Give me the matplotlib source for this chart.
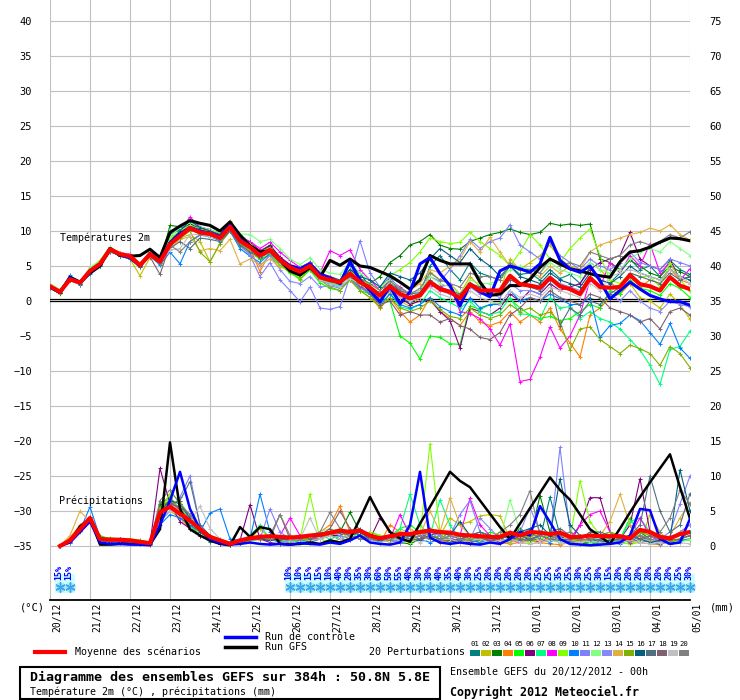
import matplotlib
matplotlib.use('Agg')
import matplotlib.pyplot as plt
from matplotlib.patches import Rectangle
from matplotlib.lines import Line2D

W, H = 740, 700
MONO = 'DejaVu Sans Mono'

steps = list(range(65))       # 6h steps, 0..384h
steps_p = list(range(1, 65))  # precipitation starts at +6h

days = ['20/12', '21/12', '22/12', '23/12', '24/12', '25/12', '26/12', '27/12',
        '28/12', '29/12', '30/12', '31/12', '01/01', '02/01', '03/01', '04/01', '05/01']

# temperatures 2m (°C)
t_mean = [2.1, 1.3, 3.1, 2.6, 4.3, 5.3, 7.4, 6.7, 6.4, 5.1, 6.7, 5.6,
          8.1, 9.3, 10.4, 9.8, 9.6, 9.0, 10.6, 8.6, 7.7, 6.5, 7.3, 5.8,
          4.8, 4.2, 5.0, 3.4, 3.0, 2.7, 3.9, 2.7, 1.9, 0.8, 2.1, 1.0,
          0.4, 0.8, 2.7, 1.7, 1.3, 0.4, 2.4, 1.5, 1.5, 1.5, 3.6, 2.4,
          2.2, 1.9, 3.3, 2.1, 1.7, 1.0, 3.3, 2.0, 1.9, 2.0, 3.7, 2.4,
          2.1, 1.5, 3.4, 2.2, 1.7]
t_gfs = [2.0, 1.2, 3.4, 2.7, 4.0, 5.0, 7.5, 6.5, 6.4, 6.5, 7.4, 6.2,
         9.8, 10.7, 11.5, 11.1, 10.8, 10.0, 11.3, 9.4, 7.9, 7.0, 7.2, 5.8,
         4.3, 3.7, 4.8, 3.4, 5.8, 5.1, 6.0, 5.0, 4.8, 4.2, 3.6, 2.7,
         1.7, 3.0, 6.5, 5.8, 5.3, 5.3, 5.3, 2.7, 0.8, 1.0, 2.2, 2.2,
         3.1, 4.8, 6.0, 5.3, 4.6, 4.3, 3.9, 3.6, 3.4, 5.6, 7.0, 7.2,
         7.7, 8.4, 9.0, 8.9, 8.6]
t_ctrl = [2.0, 1.2, 3.3, 2.6, 4.2, 5.2, 7.5, 6.6, 6.2, 5.0, 6.8, 5.7,
          8.3, 9.6, 10.5, 10.0, 9.7, 9.2, 10.8, 8.8, 7.8, 6.6, 7.2, 5.9,
          5.0, 4.6, 5.3, 3.8, 3.2, 2.5, 5.6, 3.0, 1.5, -0.1, 2.1, -0.4,
          1.3, 5.3, 6.2, 3.9, 2.2, -0.7, 2.4, 1.3, 0.6, 4.3, 5.0, 4.6,
          4.1, 5.3, 9.1, 5.8, 4.6, 4.1, 5.0, 2.9, 0.3, 1.5, 2.7, 1.7,
          0.8, 0.3, -0.1, -0.1, -0.6]

t01 = [2.3, 1.4, 3.3, 2.5, 4.6, 5.5, 7.6, 6.5, 6.3, 5.0, 6.9, 5.9,
       9.5, 10.2, 11.0, 10.4, 10.0, 9.4, 11.0, 9.0, 8.0, 6.8, 7.8, 6.0,
       5.0, 4.5, 5.6, 3.8, 3.5, 3.0, 5.2, 4.0, 2.0, 0.5, 3.5, 1.0,
       -0.5, 1.0, 5.0, 6.5, 4.5, 3.0, 5.5, 4.0, 3.5, 3.0, 5.0, 3.8,
       4.0, 3.0, 4.5, 3.2, 3.8, 2.5, 4.8, 3.0, 2.6, 4.0, 6.0, 4.5,
       5.0, 3.5, 5.8, 4.5, 3.8]
t02 = [2.0, 1.0, 3.0, 2.4, 4.2, 5.0, 7.2, 6.4, 6.0, 3.6, 6.2, 5.4,
       7.8, 9.0, 9.5, 8.5, 5.6, 8.2, 10.0, 7.8, 6.8, 6.0, 6.5, 5.0,
       4.2, 3.0, 4.5, 3.0, 2.8, 2.2, 3.0, 1.5, 0.5, -1.0, 1.2, 0.0,
       -0.8, 0.5, 4.2, 3.0, 2.5, 1.0, 3.5, 2.0, 1.5, 1.2, 6.0, 4.5,
       5.5, 6.5, 8.0, 6.0, 5.0, 4.0, 5.5, 4.5, 3.0, 1.0, 2.5, 0.5,
       0.0, -1.0, 1.0, -0.5, -2.6]
t03 = [2.2, 1.2, 3.2, 2.8, 4.5, 5.4, 7.5, 6.6, 6.2, 5.2, 6.6, 5.5,
       10.8, 10.6, 11.3, 10.5, 10.2, 9.6, 11.2, 9.5, 8.3, 7.0, 8.0, 6.2,
       4.5, 4.0, 5.2, 3.5, 3.0, 2.8, 4.5, 3.2, 2.5, 3.5, 5.5, 6.5,
       8.0, 8.5, 9.5, 8.0, 7.5, 7.4, 8.5, 9.0, 9.5, 9.8, 10.3, 9.8,
       9.5, 9.8, 11.1, 10.8, 11.0, 10.8, 11.0, 6.0, 5.5, 4.5, 5.8, 5.0,
       4.0, 3.5, 5.0, 4.2, 3.5]
t04 = [2.0, 1.2, 3.0, 2.4, 4.1, 5.2, 7.2, 6.8, 6.6, 5.4, 6.8, 5.8,
       8.6, 9.6, 10.6, 10.0, 9.6, 9.0, 11.5, 9.2, 7.5, 4.2, 7.0, 5.8,
       4.8, 4.5, 5.0, 3.2, 2.8, 2.5, 3.6, 2.0, 1.0, -1.0, 0.5, -1.5,
       -3.0, -2.0, 0.5, -1.5, -2.5, -3.5, -1.5, -3.0, -3.5, -3.0, -1.5, -3.0,
       -2.0, -3.0, -1.0, -4.0, -6.0, -8.0, -2.0, -1.0, 0.5, 1.0, 2.5, 2.0,
       3.0, 2.5, 4.6, 3.0, 2.5]
t05 = [2.4, 1.6, 3.4, 2.3, 4.4, 5.6, 7.2, 6.6, 6.0, 4.8, 6.5, 5.3,
       8.8, 9.8, 10.8, 10.2, 9.8, 9.2, 10.2, 8.4, 7.3, 6.0, 6.6, 5.2,
       4.0, 3.2, 4.4, 2.6, 1.8, 1.5, 3.5, 1.5, 1.0, 0.5, 0.0, -5.0,
       -6.0, -8.3, -5.0, -5.2, -6.1, -6.2, -0.7, -1.2, -0.5, -0.3, 0.3, -1.0,
       -2.0, -2.5, -2.2, -2.8, -2.5, -1.5, -0.5, -1.0, 1.5, 1.0, 3.0, 1.8,
       1.5, 0.8, 2.5, 1.8, 0.5]
t06 = [2.2, 1.4, 3.0, 2.7, 4.4, 5.2, 7.3, 6.8, 6.6, 5.0, 6.9, 5.8,
       8.2, 9.5, 11.0, 10.0, 9.8, 9.2, 10.5, 8.8, 8.4, 7.2, 7.9, 6.3,
       5.2, 4.8, 5.5, 4.0, 3.5, 2.8, 3.5, 2.5, 1.8, 0.2, 1.5, 0.5,
       -0.5, 0.0, 0.1, -1.5, -2.8, -6.7, -1.0, -1.5, -2.0, -1.0, 1.0, 0.0,
       1.5, 1.0, 2.5, 1.5, 2.0, 2.5, 4.5, 5.5, 6.0, 6.5, 9.8, 6.0,
       5.0, 4.5, 6.0, 3.0, 3.5]
t07 = [2.1, 1.3, 3.0, 2.7, 4.2, 5.4, 7.4, 6.4, 6.2, 5.2, 6.6, 5.6,
       8.4, 9.5, 10.2, 9.8, 9.4, 8.8, 10.8, 8.7, 7.6, 6.4, 7.0, 5.6,
       4.6, 4.0, 4.6, 3.0, 2.6, 2.2, 3.8, 2.4, 1.5, -0.5, 1.0, -0.8,
       -1.2, -0.5, 1.5, 0.5, -0.2, -1.0, 0.0, -1.5, -2.0, -1.5, 0.5, -1.8,
       -2.0, -2.5, 0.5, -1.0, -0.8, -2.5, -1.5, -2.5, -3.0, -4.0, -5.5, -7.0,
       -9.2, -11.9, -6.9, -6.5, -4.3]
t08 = [2.3, 1.5, 3.2, 2.6, 4.4, 5.4, 7.6, 6.9, 6.7, 5.3, 7.0, 5.9,
       8.6, 10.0, 12.0, 10.6, 10.2, 9.4, 11.0, 9.2, 8.5, 7.5, 8.4, 7.0,
       5.8, 4.8, 5.5, 4.0, 7.2, 6.5, 7.3, 4.5, 3.0, 1.5, 3.0, 2.0,
       1.0, 1.5, 2.1, 2.1, 2.3, -1.5, -1.8, -2.5, -4.0, -6.3, -3.3, -11.5,
       -11.2, -8.0, -3.7, -6.7, -5.0, -2.0, 3.0, 2.0, 5.5, 4.0, 6.5, 5.0,
       8.2, 4.0, 5.5, 3.0, 4.6]
t09 = [2.4, 1.5, 3.3, 2.8, 4.7, 5.8, 7.7, 6.8, 6.5, 5.3, 7.0, 5.8,
       9.0, 10.0, 10.8, 10.2, 10.0, 9.2, 11.0, 9.0, 8.2, 7.0, 7.6, 6.0,
       5.0, 4.2, 5.3, 3.5, 3.2, 2.8, 4.2, 3.0, 2.4, 1.5, 3.6, 4.5,
       5.5, 7.0, 9.0, 8.5, 8.2, 8.4, 9.8, 8.5, 7.5, 6.5, 5.0, 7.0,
       9.5, 8.0, 6.0, 5.5, 7.5, 9.0, 10.3, 6.5, 3.0, 2.5, 4.0, 3.5,
       3.5, 2.0, 5.5, 3.0, 1.5]
t10 = [1.8, 1.1, 3.7, 2.3, 3.8, 5.0, 7.2, 6.4, 6.0, 5.0, 6.5, 5.1,
       7.0, 5.3, 8.5, 9.4, 9.2, 8.6, 10.0, 7.5, 6.4, 5.5, 6.8, 5.5,
       4.4, 3.8, 4.8, 3.0, 2.4, 2.0, 3.0, 2.0, 1.0, -0.5, 1.0, -0.5,
       -1.0, -0.5, 0.5, -0.8, -1.5, -2.0, 0.5, -1.0, -0.5, -0.5, 1.5, 0.0,
       0.5, 0.0, 1.0, 0.3, -0.5, -0.5, 0.5, -5.2, -3.5, -3.2, -2.0, -2.8,
       -4.5, -6.2, -3.2, -6.7, -8.2]
t11 = [2.0, 1.2, 3.2, 2.5, 4.0, 5.0, 7.0, 6.6, 6.3, 5.2, 6.4, 5.4,
       8.0, 9.0, 10.2, 9.6, 9.4, 8.8, 10.2, 8.0, 6.5, 3.5, 5.5, 3.0,
       1.5, -0.1, 2.0, -1.0, -1.2, -0.8, 3.5, 8.6, 4.0, 2.0, 3.5, 1.5,
       0.5, 1.2, 3.5, 2.8, 4.5, 6.5, 8.8, 7.5, 8.5, 9.0, 10.9, 8.0,
       7.0, 6.0, 8.5, 6.5, 5.5, 4.5, 6.0, 5.0, 4.5, 5.5, 7.0, 5.5,
       5.0, 4.5, 6.0, 5.5, 5.0]
t12 = [2.5, 1.6, 3.4, 2.8, 4.8, 5.7, 7.5, 6.9, 6.6, 5.4, 7.0, 6.0,
       9.2, 10.5, 11.2, 10.6, 10.2, 9.6, 11.3, 9.6, 9.5, 8.5, 8.8, 7.5,
       6.0, 5.2, 6.2, 4.5, 4.0, 3.8, 5.5, 4.0, 3.0, 2.0, 3.0, 1.8,
       1.0, 1.5, 3.5, 2.5, 2.0, 1.0, 3.0, 2.5, 2.5, 3.0, 4.5, 5.0,
       4.5, 4.0, 5.5, 4.5, 4.0, 3.5, 5.5, 4.5, 4.0, 4.5, 6.0, 7.0,
       7.5, 7.0, 8.5, 7.5, 6.5]
t13 = [2.2, 1.4, 3.1, 2.4, 4.3, 5.3, 7.3, 6.5, 6.2, 5.0, 6.6, 5.5,
       8.4, 9.2, 10.4, 9.9, 9.7, 9.1, 10.5, 8.5, 6.8, 5.0, 6.5, 4.5,
       2.8, 2.5, 3.5, 2.0, 2.2, 1.8, 3.0, 1.8, 1.2, 0.0, 1.5, 0.5,
       0.0, 0.5, 2.5, 1.5, 1.0, 0.5, 2.0, 1.0, 1.0, 0.5, 2.5, 1.5,
       1.5, 1.0, 3.5, 2.5, 2.0, 1.5, 3.5, 2.0, 1.0, 0.0, 1.5, 0.0,
       -1.0, -1.5, 0.0, -0.5, -0.8]
t14 = [2.3, 1.3, 3.2, 2.6, 4.4, 5.3, 7.4, 6.7, 6.3, 5.1, 6.8, 5.6,
       7.5, 8.8, 9.2, 7.2, 7.5, 7.2, 8.8, 5.3, 6.0, 5.2, 6.0, 4.8,
       4.5, 3.8, 4.8, 3.2, 3.0, 2.5, 3.8, 2.5, 1.5, 0.5, 2.0, 0.8,
       1.5, 2.5, 4.5, 4.0, 5.0, 6.0, 8.5, 7.0, 9.1, 7.0, 5.0, 4.5,
       4.0, 3.5, 5.0, 4.0, 5.0, 4.5, 7.0, 8.0, 8.5, 9.0, 9.5, 9.8,
       10.4, 10.0, 10.9, 9.5, 8.7]
t15 = [2.0, 1.2, 3.0, 2.5, 4.2, 5.1, 7.2, 6.5, 6.2, 4.8, 6.5, 5.4,
       8.0, 9.0, 10.0, 7.0, 5.6, 8.2, 10.0, 8.2, 7.2, 6.2, 6.9, 5.4,
       4.2, 3.5, 4.6, 3.0, 2.0, 1.5, 3.0, 1.5, 0.5, -0.8, 0.5, -1.0,
       -1.5, -1.0, 0.0, -1.2, -2.2, -2.5, -1.0, -2.0, -2.5, -2.0, -0.5, -1.5,
       -1.0, -2.0, -1.6, -3.0, -7.0, -4.0, -3.7, -5.5, -6.5, -7.5, -6.3, -6.8,
       -7.5, -9.2, -6.5, -7.5, -9.5]
t16 = [2.1, 1.2, 3.1, 2.7, 4.3, 5.3, 7.2, 6.5, 6.3, 5.1, 6.5, 5.5,
       8.5, 10.0, 11.5, 10.5, 10.0, 9.5, 11.0, 9.0, 7.7, 6.3, 7.5, 5.8,
       4.8, 4.0, 5.0, 3.2, 2.8, 2.8, 4.5, 3.5, 3.0, 2.0, 4.0, 3.5,
       3.0, 4.0, 6.0, 7.5, 6.5, 5.5, 7.5, 6.0, 5.0, 3.5, 5.0, 3.5,
       3.0, 2.5, 4.0, 3.0, 2.5, 2.0, 4.0, 3.0, 2.5, 3.5, 5.0, 4.0,
       3.5, 3.0, 4.5, 3.5, 3.0]
t17 = [2.0, 1.3, 3.0, 2.5, 4.1, 5.0, 7.0, 6.5, 6.2, 4.9, 6.4, 5.5,
       7.5, 8.5, 7.5, 9.0, 8.8, 8.5, 10.0, 8.0, 7.0, 6.2, 7.0, 5.5,
       4.6, 4.0, 4.8, 3.2, 2.8, 2.5, 3.8, 2.8, 2.0, 1.0, 2.5, 1.5,
       1.0, 1.2, 3.0, 2.0, 1.5, 1.0, 2.5, 2.0, 1.5, 1.2, 3.0, 2.5,
       2.0, 1.5, 3.0, -3.5, -1.0, -2.0, 0.0, -0.5, 1.0, 2.0, 4.0, 3.5,
       3.0, 2.5, 4.0, 3.0, 3.5]
t18 = [2.2, 1.4, 3.1, 2.6, 4.4, 5.2, 7.3, 6.6, 6.3, 5.0, 6.3, 3.8,
       8.0, 9.3, 10.5, 10.0, 9.8, 9.2, 10.7, 8.7, 7.8, 6.6, 7.4, 6.0,
       4.8, 4.2, 5.0, 3.6, 3.2, 2.6, 3.5, 2.2, 1.2, -0.5, 0.0, -2.0,
       -1.5, -2.0, -2.0, -3.0, -2.5, -3.5, -4.0, -5.2, -5.5, -4.5, -2.0, -1.0,
       0.5, 0.0, 1.5, 0.5, 0.0, -0.5, 1.0, 0.5, -1.0, -1.5, -2.0, -3.0,
       -2.5, -4.0, -1.5, -1.0, -2.0]
t19 = [2.1, 1.3, 3.1, 2.6, 4.3, 5.2, 7.3, 6.6, 6.3, 5.1, 6.6, 5.5,
       7.3, 7.5, 9.5, 9.5, 9.2, 8.8, 10.4, 8.5, 7.5, 6.4, 7.0, 5.5,
       4.5, 3.8, 4.8, 3.0, 2.5, 2.0, 3.2, 2.5, 1.5, 0.5, 1.8, 0.5,
       0.0, 0.5, 2.0, 1.0, 0.5, -0.5, 1.5, 0.5, 0.0, -0.5, 1.5, 0.5,
       1.0, 0.5, 2.0, 1.5, 1.0, 0.5, 2.5, 1.5, 3.5, 4.0, 4.5, 4.0,
       3.5, 3.0, 4.5, 3.5, 2.5]
t20 = [2.2, 1.3, 3.2, 2.7, 4.4, 5.4, 7.3, 6.7, 6.4, 5.2, 6.6, 5.5,
       8.0, 7.0, 8.5, 9.5, 9.4, 8.8, 10.4, 8.4, 7.8, 6.8, 7.5, 5.8,
       4.8, 4.0, 5.2, 3.4, 3.0, 2.8, 4.0, 3.2, 2.5, 1.5, 2.8, 1.8,
       1.0, 1.8, 4.0, 3.0, 2.5, 2.0, 4.0, 3.5, 3.5, 3.0, 5.5, 4.5,
       4.5, 4.0, 6.0, 5.0, 5.5, 5.0, 7.0, 6.5, 6.0, 6.5, 8.0, 8.5,
       8.0, 8.5, 9.5, 9.0, 9.9]

# precipitations (mm / 6h), steps 1..64
p_mean = [0.0, 0.8, 2.4, 4.0, 1.0, 0.9, 0.9, 0.8, 0.6, 0.4, 4.8, 5.6, 4.6, 3.6, 2.4, 1.3,
          0.8, 0.3, 0.8, 1.1, 1.3, 1.4, 1.3, 1.2, 1.3, 1.5, 1.6, 1.9, 2.2, 2.0, 2.2, 1.5,
          1.1, 1.4, 1.7, 1.7, 2.0, 2.2, 2.0, 1.9, 1.6, 1.5, 1.4, 1.3, 1.3, 1.9, 1.5, 2.0,
          1.9, 1.7, 1.9, 1.3, 1.3, 1.5, 1.4, 1.4, 1.4, 1.1, 2.3, 2.0, 1.3, 1.1, 1.7, 2.0]
p_gfs = [0.0, 0.6, 2.8, 3.9, 0.2, 0.2, 0.3, 0.3, 0.2, 0.2, 2.4, 14.8, 5.3, 2.4, 1.5, 0.8,
         0.3, 0.1, 2.7, 1.3, 2.7, 2.4, 0.3, 0.2, 0.3, 0.5, 0.3, 0.8, 0.5, 1.0, 3.9, 7.0,
         4.3, 2.0, 1.1, 0.6, 3.2, 5.6, 8.1, 10.6, 9.3, 8.4, 6.5, 4.6, 2.7, 1.0, 3.2, 5.4,
         7.6, 9.8, 8.0, 6.6, 4.5, 2.4, 1.4, 0.3, 2.5, 4.8, 7.0, 9.1, 11.1, 13.1, 8.4, 3.9]
p_ctrl = [0.0, 0.5, 2.0, 3.5, 0.5, 0.3, 0.3, 0.2, 0.2, 0.1, 3.0, 6.5, 10.6, 5.3, 2.4, 1.0,
          0.4, 0.2, 0.3, 0.5, 0.3, 0.2, 0.3, 0.2, 0.4, 0.3, 0.2, 0.5, 0.3, 0.8, 1.5, 0.5,
          0.3, 0.2, 0.5, 3.0, 10.6, 1.2, 0.5, 0.3, 0.5, 0.3, 0.2, 0.5, 0.3, 1.0, 2.0, 1.5,
          5.7, 3.4, 1.0, 0.3, 0.2, 0.1, 0.2, 0.3, 0.5, 1.5, 5.3, 5.1, 1.0, 0.3, 0.5, 3.9]

p01 = [0.0, 0.8, 2.5, 4.2, 0.8, 0.6, 0.5, 0.4, 0.3, 0.2, 5.0, 6.0, 4.5, 3.0, 1.5, 0.6,
       0.3, 0.2, 0.5, 0.8, 1.0, 0.8, 1.2, 0.8, 1.0, 1.5, 1.0, 2.0, 1.8, 1.5, 2.5, 1.0,
       0.5, 1.5, 1.0, 0.8, 1.0, 2.5, 1.5, 1.0, 0.8, 0.5, 1.0, 1.2, 0.8, 0.5, 1.5, 0.8,
       1.0, 7.0, 1.5, 0.5, 0.8, 0.3, 0.5, 0.8, 1.0, 0.5, 1.5, 0.8, 0.5, 0.3, 1.0, 2.0]
p02 = [0.0, 0.5, 2.0, 3.5, 1.0, 1.2, 1.0, 1.0, 0.8, 0.5, 4.0, 5.0, 4.0, 3.5, 2.0, 1.5,
       1.0, 0.5, 0.8, 1.0, 2.5, 1.0, 0.5, 0.8, 0.5, 1.0, 1.5, 1.5, 2.0, 1.5, 1.0, 0.8,
       1.0, 0.5, 1.0, 0.8, 1.5, 1.0, 1.5, 4.0, 3.0, 3.5, 4.3, 4.5, 4.3, 1.0, 0.5, 0.8,
       0.5, 1.0, 0.8, 0.5, 0.3, 0.5, 1.0, 1.5, 0.5, 0.3, 0.5, 4.5, 2.0, 0.5, 1.0, 0.8]
p03 = [0.0, 1.0, 2.8, 3.8, 1.2, 1.0, 1.0, 0.8, 0.6, 0.5, 6.0, 7.0, 5.0, 3.0, 2.0, 1.0,
       0.5, 0.3, 0.5, 1.5, 1.0, 1.2, 0.8, 1.0, 0.8, 1.0, 1.5, 2.0, 2.0, 4.8, 2.0, 1.0,
       0.8, 1.0, 0.5, 0.3, 1.0, 1.5, 1.0, 0.5, 1.0, 1.5, 2.0, 1.5, 1.0, 0.8, 2.5, 1.0,
       7.2, 2.0, 1.0, 0.5, 0.3, 0.5, 0.8, 1.0, 0.5, 1.5, 2.0, 1.0, 0.5, 0.3, 0.8, 1.0]
p04 = [0.0, 1.2, 3.0, 4.0, 1.0, 0.8, 0.8, 0.8, 0.5, 0.3, 5.0, 7.5, 4.0, 2.5, 1.5, 1.0,
       0.5, 0.3, 0.5, 0.8, 1.0, 1.5, 1.0, 1.2, 1.0, 1.5, 2.0, 3.0, 5.7, 2.0, 1.5, 1.0,
       0.5, 3.0, 2.0, 1.0, 1.5, 1.0, 0.5, 0.8, 1.0, 0.5, 1.0, 0.8, 0.5, 0.3, 0.5, 0.3,
       0.5, 0.3, 0.2, 0.5, 0.8, 1.0, 0.5, 0.3, 0.5, 1.0, 0.5, 0.3, 0.2, 1.0, 2.0, 3.0]
p05 = [0.0, 1.0, 2.5, 3.5, 1.5, 1.0, 1.0, 1.0, 0.8, 0.5, 4.5, 7.0, 5.0, 3.0, 1.5, 1.0,
       0.5, 0.3, 0.5, 1.0, 1.5, 1.0, 1.5, 1.0, 1.2, 1.0, 1.5, 1.5, 2.5, 2.0, 1.5, 2.0,
       1.5, 1.0, 2.5, 3.0, 2.0, 1.0, 1.5, 2.0, 1.5, 1.0, 1.0, 2.0, 1.5, 1.0, 1.0, 0.5,
       1.0, 1.5, 1.0, 0.5, 0.8, 0.5, 0.3, 0.5, 1.0, 4.0, 1.5, 1.0, 0.5, 0.8, 1.0, 1.5]
p06 = [0.0, 0.6, 2.2, 3.8, 0.8, 0.6, 0.6, 0.5, 0.4, 0.3, 11.1, 6.0, 3.5, 2.5, 1.5, 0.8,
       0.3, 0.2, 0.8, 5.9, 1.0, 0.5, 0.3, 0.5, 0.8, 1.0, 1.0, 1.5, 1.5, 2.0, 1.5, 1.0,
       4.0, 2.0, 1.0, 0.8, 1.0, 1.5, 1.0, 0.8, 0.5, 0.5, 0.8, 1.0, 0.5, 0.8, 1.5, 1.0,
       1.5, 1.0, 1.5, 0.5, 3.0, 6.9, 6.9, 2.0, 1.0, 3.0, 9.6, 2.0, 0.5, 0.3, 1.0, 0.8]
p07 = [0.0, 0.8, 2.4, 3.6, 0.8, 0.7, 0.7, 0.6, 0.5, 0.3, 4.0, 5.0, 6.0, 3.5, 2.0, 1.0,
       0.5, 0.3, 0.8, 1.5, 3.0, 1.0, 0.5, 0.8, 0.5, 1.0, 1.5, 1.0, 1.5, 1.0, 2.0, 1.5,
       1.0, 1.5, 2.5, 7.4, 3.0, 1.5, 6.6, 3.0, 1.0, 0.8, 0.5, 1.0, 0.8, 0.5, 1.0, 1.5,
       2.0, 1.0, 0.5, 0.8, 1.0, 1.5, 0.8, 0.5, 1.0, 3.5, 4.0, 2.0, 1.0, 0.5, 0.8, 1.0]
p08 = [0.0, 0.7, 2.6, 4.1, 1.0, 0.9, 0.8, 0.6, 0.5, 0.3, 5.5, 6.5, 5.0, 4.0, 2.0, 1.0,
       0.5, 0.3, 0.5, 0.8, 1.0, 0.8, 1.5, 4.0, 1.5, 1.0, 1.0, 1.5, 2.0, 1.5, 1.0, 1.5,
       0.8, 1.0, 4.5, 1.5, 1.0, 2.0, 1.5, 1.0, 1.5, 6.8, 3.0, 1.5, 1.0, 0.8, 0.5, 1.0,
       0.5, 1.5, 2.0, 1.0, 3.0, 4.5, 5.0, 2.0, 1.0, 1.5, 4.0, 1.5, 0.5, 0.3, 1.0, 1.5]
p09 = [0.0, 0.9, 2.3, 3.9, 1.2, 1.0, 1.0, 1.0, 0.8, 0.5, 5.0, 7.5, 6.5, 4.0, 2.5, 1.5,
       0.8, 0.3, 0.5, 0.8, 1.0, 1.2, 1.0, 0.5, 1.0, 7.4, 1.0, 0.5, 1.0, 1.5, 1.0, 2.0,
       1.5, 1.0, 1.0, 0.5, 1.5, 14.6, 2.0, 1.0, 0.8, 1.5, 1.0, 1.0, 2.0, 1.0, 0.8, 0.5,
       1.0, 1.5, 2.0, 1.0, 9.3, 3.5, 1.5, 1.0, 0.5, 0.3, 0.8, 1.5, 1.0, 0.5, 1.0, 0.8]
p10 = [0.0, 0.5, 2.2, 5.6, 1.2, 1.0, 1.0, 0.8, 0.5, 0.3, 3.0, 4.5, 4.0, 3.0, 2.0, 4.7,
       5.3, 1.0, 0.8, 1.0, 7.4, 2.0, 1.0, 0.8, 1.0, 0.5, 1.0, 1.5, 1.0, 0.8, 1.5, 1.0,
       0.5, 1.0, 0.8, 1.5, 1.0, 0.5, 1.0, 1.5, 1.0, 0.8, 0.5, 1.0, 1.5, 1.0, 0.8, 2.0,
       1.0, 0.5, 1.5, 1.0, 0.8, 0.5, 1.0, 0.5, 0.3, 1.0, 1.5, 0.5, 0.3, 0.5, 0.8, 1.0]
p11 = [0.0, 0.6, 2.3, 3.7, 1.0, 0.8, 0.7, 0.6, 0.5, 0.3, 3.5, 5.0, 7.0, 10.0, 3.0, 1.5,
       0.8, 0.5, 1.0, 1.2, 1.0, 5.3, 2.0, 1.0, 0.8, 1.0, 1.5, 1.5, 1.0, 0.8, 1.5, 1.0,
       0.8, 1.0, 0.5, 1.0, 1.5, 1.0, 2.0, 1.5, 4.5, 6.5, 2.0, 1.0, 0.8, 1.0, 1.5, 2.5,
       1.5, 1.0, 14.1, 2.0, 1.0, 0.5, 0.8, 1.0, 0.5, 1.0, 0.5, 0.8, 1.0, 2.0, 6.0, 10.0]
p12 = [0.0, 0.8, 2.5, 4.0, 1.0, 0.8, 0.9, 0.8, 0.6, 0.4, 4.5, 5.5, 5.0, 3.5, 2.5, 1.5,
       1.0, 0.5, 0.3, 0.8, 1.0, 1.0, 1.5, 1.0, 1.5, 1.0, 2.0, 2.5, 2.0, 1.5, 1.0, 1.5,
       1.0, 1.0, 1.5, 1.0, 2.0, 1.5, 1.0, 1.5, 1.0, 0.8, 1.0, 1.5, 1.0, 6.6, 2.0, 1.0,
       1.5, 1.0, 0.8, 1.5, 1.0, 0.5, 0.8, 1.0, 1.5, 1.0, 2.0, 1.5, 1.0, 0.8, 0.5, 1.0]
p13 = [0.0, 0.7, 2.2, 3.9, 1.1, 0.9, 0.8, 0.7, 0.5, 0.3, 4.0, 5.0, 6.0, 4.0, 2.0, 1.0,
       0.5, 0.3, 0.8, 1.0, 1.5, 1.0, 0.5, 0.8, 1.0, 1.5, 1.0, 2.0, 1.5, 1.0, 1.5, 1.0,
       1.0, 0.8, 0.5, 1.0, 1.5, 2.0, 1.5, 1.0, 1.5, 1.0, 4.0, 2.5, 1.0, 1.5, 2.0, 5.5,
       2.0, 1.5, 1.0, 0.8, 0.5, 1.0, 1.5, 2.0, 1.0, 0.8, 1.5, 1.0, 0.5, 1.0, 2.0, 3.0]
p14 = [0.0, 1.5, 5.0, 3.5, 1.0, 0.8, 0.8, 0.7, 0.5, 0.3, 5.0, 6.0, 5.0, 3.5, 2.0, 1.0,
       0.5, 0.3, 0.5, 1.0, 0.8, 1.2, 1.0, 1.5, 1.0, 0.8, 1.0, 1.5, 2.0, 1.0, 1.5, 1.0,
       0.8, 1.5, 2.0, 2.5, 1.5, 5.0, 2.0, 6.9, 3.0, 1.5, 1.0, 0.8, 1.0, 0.5, 1.0, 1.5,
       0.8, 1.0, 1.5, 1.0, 0.5, 1.0, 1.5, 3.5, 7.4, 3.0, 1.0, 0.8, 0.5, 1.5, 4.0, 6.2]
p15 = [0.0, 0.9, 2.6, 3.8, 0.9, 0.8, 0.8, 0.8, 0.6, 0.4, 5.5, 6.5, 5.5, 3.5, 2.5, 1.2,
       0.6, 0.3, 0.5, 0.8, 1.0, 1.0, 1.0, 1.5, 1.0, 1.0, 1.5, 1.5, 2.0, 1.5, 1.0, 1.0,
       0.8, 1.0, 1.5, 1.0, 2.0, 1.5, 1.0, 2.0, 1.5, 1.0, 0.8, 1.5, 1.0, 0.8, 1.0, 1.5,
       1.5, 1.0, 2.0, 1.0, 0.8, 1.0, 1.5, 2.0, 1.5, 1.0, 2.0, 1.5, 1.0, 0.5, 1.0, 1.5]
p16 = [0.0, 0.8, 2.5, 4.0, 1.0, 0.8, 0.8, 0.7, 0.5, 0.3, 5.0, 6.5, 6.0, 4.0, 2.0, 1.0,
       0.5, 0.3, 0.5, 1.0, 1.0, 0.8, 1.0, 1.0, 1.5, 1.5, 2.0, 1.5, 1.0, 1.5, 2.0, 1.0,
       0.8, 1.0, 1.5, 1.0, 0.8, 1.5, 2.0, 1.5, 3.5, 1.5, 1.0, 0.8, 1.0, 1.5, 2.0, 2.5,
       3.0, 1.5, 9.6, 3.0, 1.5, 1.0, 0.5, 0.8, 1.0, 1.5, 1.0, 0.5, 0.8, 1.0, 10.9, 5.0]
p17 = [0.0, 0.8, 2.4, 3.8, 1.0, 0.8, 0.8, 0.7, 0.5, 0.3, 4.5, 6.0, 6.5, 9.2, 3.0, 1.5,
       0.8, 0.5, 0.5, 1.0, 1.0, 1.5, 1.0, 1.0, 1.5, 1.0, 1.5, 2.0, 2.0, 1.5, 1.0, 1.0,
       1.0, 1.5, 1.0, 0.8, 1.0, 1.5, 1.0, 0.8, 1.0, 1.5, 2.0, 1.5, 1.0, 2.0, 1.5, 1.0,
       1.5, 2.0, 2.5, 1.5, 1.0, 2.0, 2.0, 1.5, 1.0, 1.5, 3.0, 10.0, 5.0, 2.0, 3.0, 7.5]
p18 = [0.0, 0.8, 2.3, 3.9, 1.1, 1.0, 1.0, 0.9, 0.7, 0.5, 5.0, 6.0, 5.5, 4.5, 2.5, 1.5,
       0.8, 0.5, 0.8, 1.0, 1.5, 1.5, 4.5, 1.0, 1.0, 1.5, 1.5, 2.5, 5.0, 2.5, 1.5, 1.0,
       1.0, 1.5, 1.0, 0.8, 1.0, 1.5, 1.0, 1.0, 0.8, 1.5, 1.0, 0.8, 1.0, 1.5, 1.0, 0.8,
       1.5, 1.0, 0.8, 1.0, 1.5, 1.0, 0.8, 1.5, 1.0, 0.5, 1.0, 1.5, 1.0, 0.8, 1.0, 1.5]
p19 = [0.0, 0.9, 2.6, 4.0, 1.0, 0.9, 0.9, 0.8, 0.6, 0.4, 4.0, 5.0, 4.5, 3.5, 5.7, 2.5,
       1.0, 0.5, 0.8, 1.0, 1.5, 1.0, 1.5, 1.0, 1.0, 4.0, 1.0, 1.5, 1.0, 1.5, 1.0, 0.8,
       0.5, 1.0, 0.8, 1.0, 0.5, 1.0, 0.8, 1.0, 0.5, 0.8, 1.0, 0.5, 0.8, 1.0, 0.5, 0.3,
       0.5, 0.8, 0.5, 0.3, 0.5, 0.8, 0.5, 0.3, 0.5, 0.8, 0.5, 0.3, 0.5, 0.3, 0.5, 0.3]
p20 = [0.0, 0.8, 2.5, 4.1, 1.0, 0.8, 0.9, 0.8, 0.6, 0.4, 6.5, 8.0, 6.0, 4.5, 2.5, 1.5,
       0.8, 0.5, 0.8, 1.2, 1.5, 1.0, 4.5, 1.5, 1.0, 1.5, 2.0, 4.8, 2.5, 1.5, 1.0, 1.0,
       1.0, 0.8, 1.5, 1.0, 1.5, 1.0, 0.8, 1.5, 1.0, 0.8, 1.5, 1.0, 2.0, 3.0, 4.5, 7.9,
       1.5, 1.0, 1.5, 2.0, 1.0, 0.8, 1.5, 1.0, 0.8, 1.0, 1.5, 1.0, 2.0, 4.0, 8.0, 6.0]

pert_colors = ['#008080', '#c0c000', '#008000', '#ff8000', '#00ff00', '#800080', '#00ff80',
               '#ff00ff', '#80ff00', '#0080ff', '#8080ff', '#80ff80', '#8888f8', '#e0b040',
               '#80b000', '#006080', '#507080', '#806070', '#c0c0c0', '#808080']

# probability of snow (%), per 6h step
snow_steps = [1, 2] + list(range(24, 65))
snow_pct = [15, 15,
            10, 10, 15, 15, 10, 40, 20, 35, 30, 60, 50, 55, 40, 30, 30, 40, 35, 40, 30,
            25, 20, 20, 20, 20, 20, 25, 25, 35, 25, 30, 25, 30, 15, 20, 20, 20, 20, 20,
            20, 25, 30]

t_pert = [t01, t02, t03, t04, t05, t06, t07, t08, t09, t10,
          t11, t12, t13, t14, t15, t16, t17, t18, t19, t20]
p_pert = [p01, p02, p03, p04, p05, p06, p07, p08, p09, p10,
          p11, p12, p13, p14, p15, p16, p17, p18, p19, p20]


def fx(x):
    return x / W


def fy(y):
    return 1 - y / H


def pr(vals):
    # precipitations share the axis, 0 mm sits on -35
    return [v - 35 for v in vals]


plt.rcParams['font.family'] = MONO

fig = plt.figure(figsize=(7.4, 7.0), dpi=100)
ax = fig.add_axes([fx(50), 100 / H, 640 / W, 600 / H])
y0, y1 = -42.714, 43.0
ax.set_xlim(0, 64)
ax.set_ylim(y0, y1)
for side in ['top', 'right', 'left']:
    ax.spines[side].set_visible(False)
ax.spines['bottom'].set_linewidth(1.3)
ax.set_xticks(range(0, 65, 4))
ax.set_xticklabels([])
ax.set_yticks(range(-35, 45, 5))
ax.tick_params(axis='both', length=0)
ax.tick_params(axis='y', pad=13, labelsize=7.5)
ax.grid(True, color='#c0c0c0', lw=0.8)
ax.set_axisbelow(True)

ax2 = ax.twinx()
ax2.set_ylim(y0 + 35, y1 + 35)
ax2.set_yticks(range(0, 80, 5))
for side in ['top', 'right', 'left', 'bottom']:
    ax2.spines[side].set_visible(False)
ax2.tick_params(axis='y', length=0, pad=14, labelsize=7.5)

# double zero line
ax.axhline(0, color='black', lw=0.9, zorder=3)
ax.axhline(0.3, color='black', lw=0.9, zorder=3)

for tv, pv, c in zip(t_pert, p_pert, pert_colors):
    ax.plot(steps, tv, color=c, lw=0.8, marker='+', ms=3, mew=0.7, zorder=4)
    ax.plot(steps_p, pr(pv), color=c, lw=0.8, marker='+', ms=3, mew=0.7, zorder=4)

ax.plot(steps, t_gfs, color='black', lw=2.2, zorder=5)
ax.plot(steps_p, pr(p_gfs), color='black', lw=1.8, zorder=5)
ax.plot(steps, t_ctrl, color='#0000ff', lw=2.2, zorder=6)
ax.plot(steps_p, pr(p_ctrl), color='#0000ff', lw=1.8, zorder=6)
ax.plot(steps, t_mean, color='#ff0000', lw=3.0, zorder=7)
ax.plot(steps_p, pr(p_mean), color='#ff0000', lw=3.0, zorder=7)

ax.text(1.0, 9.1, 'Températures 2m', fontsize=7.2, va='center', ha='left', zorder=8)
ax.text(0.9, -28.5, 'Précipitations', fontsize=7.2, va='center', ha='left', zorder=8)

# snow probability band
band_y, band_h = -41.7, 2.7
ax.add_patch(Rectangle((0.5, band_y), 2, band_h, color='#ccffff', lw=0, zorder=2))
ax.add_patch(Rectangle((23.5, band_y), 41, band_h, color='#ccffff', lw=0, zorder=2,
                       clip_on=False))
snow_y = [-40.9] * len(snow_steps)
ax.scatter(snow_steps, snow_y, s=55, color='#a8e4fa', lw=0, zorder=3, clip_on=False)
ax.scatter(snow_steps, snow_y, s=45, marker=(6, 2, 0), color='#38a8e8', lw=1.0,
           zorder=3, clip_on=False)
for s, pc in zip(snow_steps, snow_pct):
    ax.text(s - 0.1, -37.7, f'{pc}%', rotation=90, ha='center', va='top',
            fontsize=6.0, fontweight='bold', color='#0000ff', zorder=4, clip_on=False)

# dates under the axis
for i, d in enumerate(days):
    fig.text(fx(50 + 40 * i + 7), fy(603), d, rotation=90, ha='center', va='top',
             fontsize=7)
fig.text(fx(20), fy(607), '(°C)', fontsize=7.5, va='center', ha='left')
fig.text(fx(710), fy(607), '(mm)', fontsize=7.5, va='center', ha='left')

# legend
fig.add_artist(Line2D([fx(35), fx(65)], [fy(652), fy(652)], color='#ff0000', lw=3))
fig.text(fx(75), fy(652), 'Moyenne des scénarios', fontsize=7.2, va='center')
fig.add_artist(Line2D([fx(225), fx(256)], [fy(637), fy(637)], color='#0000ff', lw=2.5))
fig.text(fx(265), fy(637), 'Run de contrôle', fontsize=7.2, va='center')
fig.add_artist(Line2D([fx(225), fx(256)], [fy(647), fy(647)], color='black', lw=2.5))
fig.text(fx(265), fy(647), 'Run GFS', fontsize=7.2, va='center')
fig.text(fx(369), fy(652), '20 Perturbations', fontsize=7.2, va='center')
for k, c in enumerate(pert_colors):
    fig.add_artist(Rectangle((fx(470 + 11 * k), fy(656)), 10 / W, 6 / H, color=c, lw=0))
    fig.text(fx(475 + 11 * k), fy(644), f'{k + 1:02d}', fontsize=5.2, ha='center',
             va='center')

# title box
fig.add_artist(Rectangle((fx(20), fy(699)), 420 / W, 32 / H, fill=False, ec='black',
                         lw=1.5))
fig.text(fx(30), fy(677), 'Diagramme des ensembles GEFS sur 384h : 50.8N 5.8E',
         fontsize=9.6, fontweight='bold', va='center')
fig.text(fx(30), fy(692), 'Température 2m (°C) , précipitations (mm)', fontsize=7.2,
         va='center')
fig.text(fx(450), fy(672), 'Ensemble GEFS du 20/12/2012 - 00h', fontsize=7.2,
         va='center')
fig.text(fx(450), fy(692), 'Copyright 2012 Meteociel.fr', fontsize=8.4,
         fontweight='bold', va='center')

fig.savefig('out.png', dpi=100)
